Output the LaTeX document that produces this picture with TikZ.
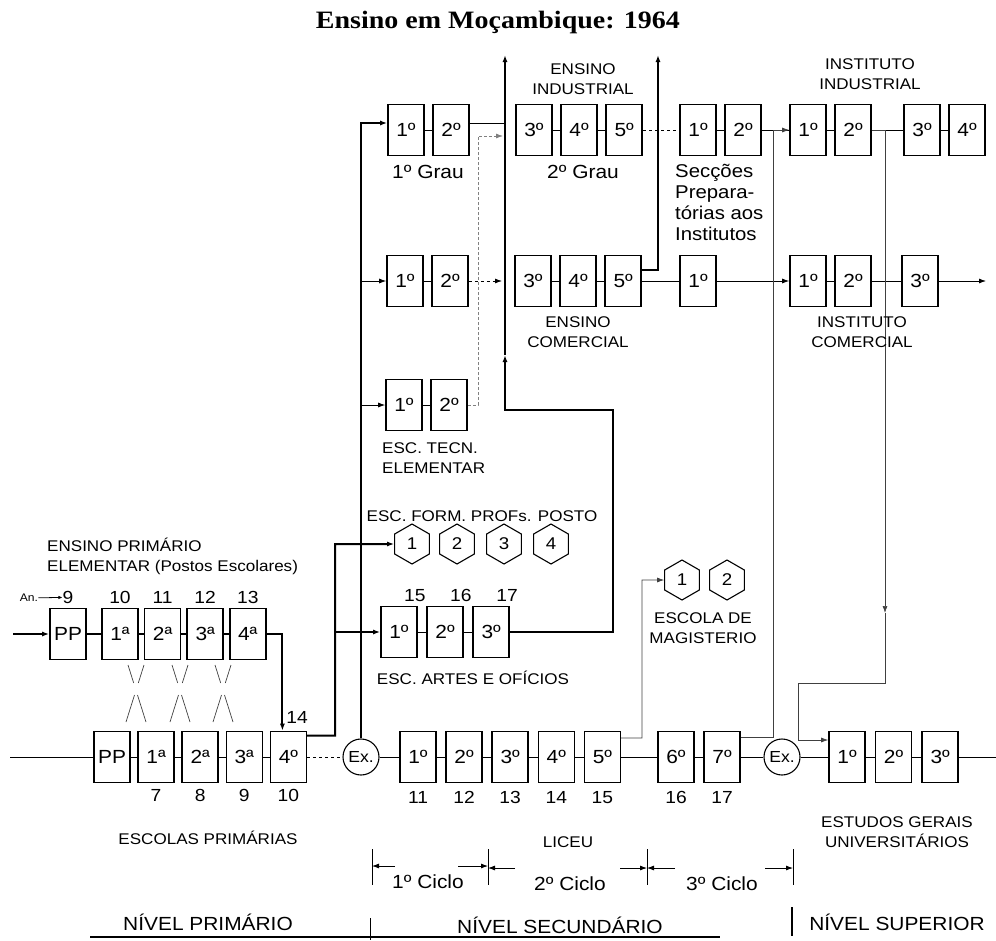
\documentclass[tikz,border=0pt]{standalone}
\usepackage{fontspec}
\setmainfont{Liberation Sans}[FakeStretch=1.1]
\newfontfamily\titlefont{Liberation Serif}[FakeStretch=1.12]
\usetikzlibrary{arrows.meta,positioning,shapes.geometric}

\begin{document}
\begin{tikzpicture}[
  x=1pt, y=-1pt,
  >={Latex[length=7pt,width=5pt]},
  node distance=7.5pt,
  grade/.style={
    draw,
    line width=1.6pt,
    minimum width=36pt,
    minimum height=51pt,
    inner sep=0pt,
    font=\fontsize{19}{19}\selectfont
  },
  hexa/.style={
    draw,
    line width=1.1pt,
    regular polygon,
    regular polygon sides=6,
    regular polygon rotate=30,
    minimum size=40pt,
    inner sep=0pt,
    font=\fontsize{17}{17}\selectfont
  },
  exam/.style={
    draw,
    circle,
    line width=1.1pt,
    minimum size=36pt,
    inner sep=0pt,
    font=\fontsize{16}{16}\selectfont
  },
  caps/.style={
    align=center,
    inner sep=0pt,
    font=\fontsize{15.5}{20}\selectfont
  },
  mixed/.style={
    align=left,
    inner sep=0pt,
    font=\fontsize{19}{21}\selectfont
  },
  num/.style={
    inner sep=0pt,
    font=\fontsize{17.5}{18}\selectfont
  },
  flow/.style={line width=2pt},
  link/.style={line width=0.8pt},
  feed/.style={link, ->},
  faint/.style={line width=0.7pt, black!75}
]
\useasboundingbox (0,0) rectangle (996,940);

\node[font=\titlefont\bfseries\fontsize{25}{25}\selectfont] (title) at (498,22)
  {Ensino em Moçambique: 1964};

% Ensino industrial, secções, instituto industrial
\node[grade] (g1a) at (406,130) {1º};
\node[grade, right=of g1a] (g1b) {2º};
\node[grade] (ind3) at (534,130) {3º};
\node[grade, right=of ind3] (ind4) {4º};
\node[grade, right=of ind4] (ind5) {5º};
\node[grade] (sec1) at (698,130) {1º};
\node[grade, right=of sec1] (sec2) {2º};
\node[grade] (ii1) at (808,130) {1º};
\node[grade, right=of ii1] (ii2) {2º};
\node[grade] (ii3) at (922,130) {3º};
\node[grade, right=of ii3] (ii4) {4º};

% Ensino comercial, instituto comercial
\node[grade] (c1a) at (405,281) {1º};
\node[grade, right=of c1a] (c1b) {2º};
\node[grade] (com3) at (533,281) {3º};
\node[grade, right=of com3] (com4) {4º};
\node[grade, right=of com4] (com5) {5º};
\node[grade] (sc1) at (698,281) {1º};
\node[grade] (ic1) at (808,281) {1º};
\node[grade, right=of ic1] (ic2) {2º};
\node[grade] (ic3) at (920,281) {3º};

% Escola tecnica elementar
\node[grade] (t1) at (404,405) {1º};
\node[grade, right=of t1] (t2) {2º};

% Escolas de formacao / magisterio
\node[hexa] (h1) at (412,544) {1};
\node[hexa] (h2) at (457,544) {2};
\node[hexa] (h3) at (504,544) {3};
\node[hexa] (h4) at (551,544) {4};
\node[hexa] (m1) at (682,580) {1};
\node[hexa] (m2) at (727,580) {2};

% Artes e oficios
\node[grade] (a1) at (399,632) {1º};
\node[grade, right=8.5pt of a1] (a2) {2º};
\node[grade, right=8.5pt of a2] (a3) {3º};

% Ensino primario elementar
\node[grade] (pp) at (68,634) {PP};
\node[grade] (p1) at (120,634) {1ª};
\node[grade, right=5pt of p1] (p2) {2ª};
\node[grade, right=5pt of p2] (p3) {3ª};
\node[grade, right=5pt of p3] (p4) {4ª};

% Escolas primarias, liceu, estudos gerais
\node[grade] (bpp) at (112,757) {PP};
\node[grade, right=6.5pt of bpp] (b1) {1ª};
\node[grade, right=6.5pt of b1] (b2) {2ª};
\node[grade, right=6.5pt of b2] (b3) {3ª};
\node[grade, right=6.5pt of b3] (b4) {4º};
\node[exam] (ex1) at (361,757) {Ex.};
\node[grade] (l1) at (418,757) {1º};
\node[grade, right=8.5pt of l1] (l2) {2º};
\node[grade, right=8.5pt of l2] (l3) {3º};
\node[grade, right=8.5pt of l3] (l4) {4º};
\node[grade, right=8.5pt of l4] (l5) {5º};
\node[grade] (l6) at (676,757) {6º};
\node[grade, right=8.5pt of l6] (l7) {7º};
\node[exam] (ex2) at (782,757) {Ex.};
\node[grade] (u1) at (847,757) {1º};
\node[grade, right=9pt of u1] (u2) {2º};
\node[grade, right=9pt of u2] (u3) {3º};

% Free ends and bends
\coordinate (anIn) at (13,634);
\coordinate (escIn) at (10,757);
\coordinate (uniOut) at (996,757);
\coordinate (trunkA) at (335,600);
\coordinate (loopA) at (613,410);
\coordinate (midA) at (505,355);
\coordinate (topA) at (505,55);
\coordinate (topB) at (658,55);
\coordinate (indIn) at (505,123);
\coordinate (tecUp) at (478,136);
\coordinate (tecIn) at (503,136);
\coordinate (comIn) at (502,281);
\coordinate (comOut) at (986,281);
\coordinate (magUp) at (642,600);
\coordinate (indUp) at (773,600);
\coordinate (midC) at (885,613);
\coordinate (dnC) at (885,683);
\coordinate (uniUp) at (798,683);

% Main thick flows
\draw[flow,->] (anIn) -- (pp);
\draw[flow] (pp) -- (p1) -- (p2) -- (p3) -- (p4);
\draw[flow,->] (p4.east) -| ([xshift=-6pt]b4.north);
\draw[flow,->] ([yshift=-5pt]b4.north east) -| (trunkA |- h1) -- (h1.west);
\draw[flow,->] (trunkA |- a1) -- (a1.west);
\draw[flow,->] (ex1.north) |- ([yshift=7pt]g1a.west);
\draw[flow,->] (a3.east) -| (loopA) -| (midA);
\draw[flow,->] (midA) -- (topA);
\draw[flow,->] ([yshift=11pt]com5.east) -| (topB);

% Branches off the Ex. line
\draw[feed] (ex1 |- c1a) -- (c1a.west);
\draw[feed] (ex1 |- t1) -- (t1.west);

% Row links
\draw[link] (g1a) -- (g1b);
\draw[link] (g1b.east |- indIn) -- (indIn);
\draw[link] (ind3) -- (ind4) -- (ind5);
\draw[link, dashed] (ind5) -- (sec1);
\draw[link] (sec1) -- (sec2) -- (ii1) -- (ii2) -- (ii3) -- (ii4);
\draw[link] (c1a) -- (c1b);
\draw[link, dashed, ->] (c1b) -- (comIn);
\draw[link] (com3) -- (com4) -- (com5) -- (sc1);
\draw[feed] (sc1) -- (ic1);
\draw[link] (ic1) -- (ic2) -- (ic3);
\draw[feed] (ic3) -- (comOut);
\draw[link] (t1) -- (t2);
\draw[gray, line width=0.8pt, densely dashed, ->] (t2.east) -| (tecUp) -- (tecIn);
\draw[link] (a1) -- (a2) -- (a3);
\draw[link] (escIn) -- (bpp) -- (b1) -- (b2) -- (b3) -- (b4);
\draw[link, dashed] (b4) -- (ex1);
\draw[link] (ex1) -- (l1) -- (l2) -- (l3) -- (l4) -- (l5) -- (l6) -- (l7) -- (ex2)
  -- (u1) -- (u2) -- (u3) -- (uniOut);

% Thin feeders to magisterio, institutos, universidade
\draw[faint,->] ([yshift=19pt]l5.east) -| (magUp |- m1) -- (m1.west);
\draw[faint,->] ([yshift=20pt]l7.east) -| (indUp |- ii1) -- (ii1.west);
\draw[faint,->] (ii2.east) -| (midC);
\draw[faint,->] (midC) -- (dnC) -- (uniUp) |- ([yshift=17pt]u1.west);

% Crossings between the two primary rows
\foreach \c in {136,180,223}
  \draw[faint] (\c-8,665) -- (\c-2.3,683) (\c+1.5,695) -- (\c+10,722)
               (\c+8,665) -- (\c+2.3,683) (\c-1.5,695) -- (\c-10,722);

% Labels
\node[caps] (indLbl) at (583,79) {ENSINO\\INDUSTRIAL};
\node[mixed] (grau1) at (428,172) {1º Grau};
\node[mixed] (grau2) at (583,172) {2º Grau};
\node[mixed, anchor=west, font=\fontsize{18.5}{21}\selectfont] (secLbl) at (675,202)
  {Secções\\Prepara-\\tórias aos\\Institutos};
\node[caps] (iiLbl) at (870,74) {INSTITUTO\\INDUSTRIAL};
\node[caps] (comLbl) at (578,332) {ENSINO\\COMERCIAL};
\node[caps] (icLbl) at (862,332) {INSTITUTO\\COMERCIAL};
\node[caps, align=left, anchor=west] (tecLbl) at (382,458) {ESC. TECN.\\ELEMENTAR};
\node[caps] (profLbl) at (482,516) {ESC. FORM. PROFs. POSTO};
\node[caps, align=left, anchor=west] (eleLbl) at (47,556)
  {ENSINO PRIMÁRIO\\ELEMENTAR (Postos Escolares)};
\node[caps] (artLbl) at (473,678) {ESC. ARTES E OFÍCIOS};
\node[caps] (magLbl) at (703,628) {ESCOLA DE\\MAGISTERIO};
\node[caps] (priLbl) at (208,838) {ESCOLAS PRIMÁRIAS};
\node[caps] (licLbl) at (568,842) {LICEU};
\node[caps] (uniLbl) at (897,832) {ESTUDOS GERAIS\\UNIVERSITÁRIOS};

% Ages
\node[inner sep=0pt, font=\fontsize{11}{11}\selectfont] (an) at (29,598) {An.};
\node[num, above=4pt of pp] (n9) {9};
\draw[->, line width=0.8pt, >={Latex[length=4pt,width=3.5pt]}] (an) -- (n9);
\node[num, above=4pt of p1] {10};
\node[num, above=4pt of p2] {11};
\node[num, above=4pt of p3] {12};
\node[num, above=4pt of p4] {13};
\node[num] at (297,717) {14};
\node[num, below=6pt of b1] {7};
\node[num, below=6pt of b2] {8};
\node[num, below=6pt of b3] {9};
\node[num, below=6pt of b4] {10};
\node[num, above=4pt of a1.north east, xshift=-3pt] {15};
\node[num, above=4pt of a2.north east, xshift=-3pt] {16};
\node[num, above=4pt of a3.north east, xshift=-3pt] {17};
\node[num, below=8pt of l1] {11};
\node[num, below=8pt of l2] {12};
\node[num, below=8pt of l3] {13};
\node[num, below=8pt of l4] {14};
\node[num, below=8pt of l5] {15};
\node[num, below=8pt of l6] {16};
\node[num, below=8pt of l7] {17};

% Ciclos do liceu
\coordinate (cb1) at (372,867);
\coordinate (cb2) at (488,867);
\coordinate (cb3) at (647,867);
\coordinate (cb4) at (793,867);
\foreach \b in {cb1,cb2,cb3,cb4}
  \draw[link] ([yshift=18pt]\b) -- ([yshift=-18pt]\b);
\node[mixed] (cy1) at (428,882) {1º Ciclo};
\node[mixed] (cy2) at (570,884) {2º Ciclo};
\node[mixed] (cy3) at (722,884) {3º Ciclo};
\coordinate (ar1) at (395,866);
\coordinate (ar2) at (458,866);
\coordinate (ar3) at (515,868);
\coordinate (ar4) at (620,868);
\coordinate (ar5) at (675,868);
\coordinate (ar6) at (765,868);
\draw[feed] (ar1) -- (ar1 -| cb1);
\draw[feed] (ar2) -- (ar2 -| cb2);
\draw[feed] (ar3) -- (ar3 -| cb2);
\draw[feed] (ar4) -- (ar4 -| cb3);
\draw[feed] (ar5) -- (ar5 -| cb3);
\draw[feed] (ar6) -- (ar6 -| cb4);

% Niveis
\node[mixed] (nPri) at (208,922) {NÍVEL PRIMÁRIO};
\node[mixed] (nSec) at (560,925) {NÍVEL SECUNDÁRIO};
\node[mixed] (nSup) at (897,922) {NÍVEL SUPERIOR};
\draw[line width=2pt] (90,937) -- (720,937);
\draw[link] (370,918) -- (370,940);
\draw[line width=1.5pt] (792,907) -- (792,936);

\end{tikzpicture}
\end{document}
